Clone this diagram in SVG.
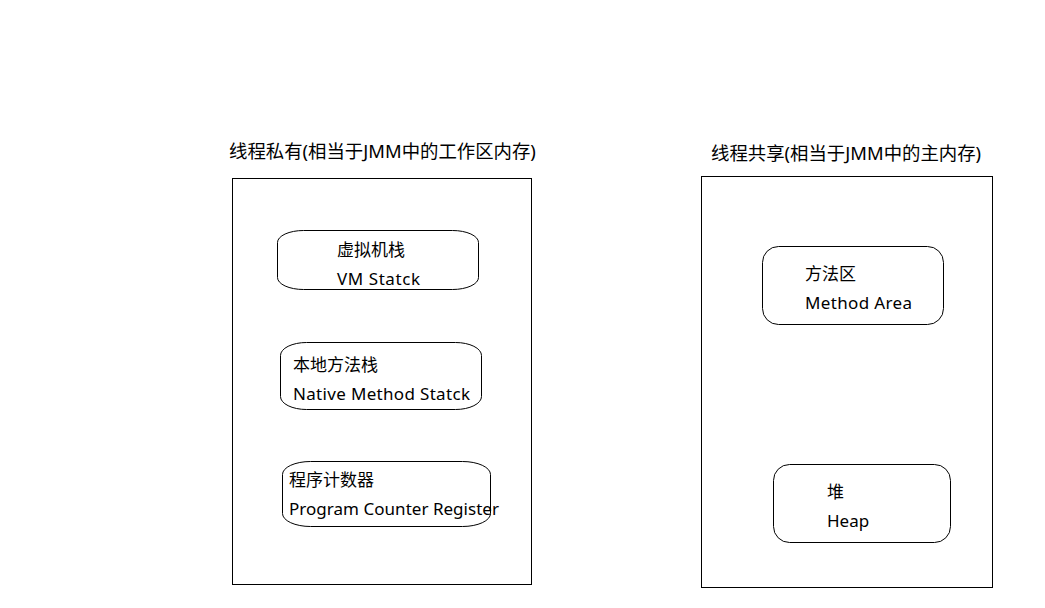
<svg xmlns="http://www.w3.org/2000/svg" width="1045" height="608" viewBox="0 0 1045 608">
<style>
.box{fill:#fff;stroke:#000;stroke-width:1}
.t{font-family:"Noto Sans","Noto Sans CJK SC",sans-serif;font-size:17px;fill:#000}
.h{font-family:"Noto Sans","Noto Sans CJK SC",sans-serif;font-size:18.4px;fill:#000}
</style>
<rect width="1045" height="608" fill="#fff"/>
<g id="private">
<text class="h" x="229" y="158">线程私有(相当于JMM中的工作区内存)</text>
<rect class="box" x="232.5" y="178.5" width="299" height="406"/>
</g>
<g id="shared">
<text class="h" x="711" y="160">线程共享(相当于JMM中的主内存)</text>
<rect class="box" x="701.5" y="176.5" width="291" height="411"/>
</g>
<g id="vmstack">
<rect class="box" x="277.5" y="230.5" width="201" height="59" rx="26" ry="12"/>
<text class="t" x="337" y="256">虚拟机栈</text>
<text class="t" x="337" y="285" textLength="83">VM Statck</text>
</g>
<g id="nativestack">
<rect class="box" x="280.5" y="342.5" width="201" height="67" rx="26" ry="13"/>
<text class="t" x="293" y="371">本地方法栈</text>
<text class="t" x="293" y="400" textLength="177">Native Method Statck</text>
</g>
<g id="pc">
<rect class="box" x="282.5" y="461.5" width="208" height="65" rx="28" ry="13"/>
<text class="t" x="289" y="486">程序计数器</text>
<text class="t" x="289" y="515" textLength="210">Program Counter Register</text>
</g>
<g id="methodarea">
<rect class="box" x="762.5" y="246.5" width="181" height="78" rx="16"/>
<text class="t" x="805" y="280">方法区</text>
<text class="t" x="805" y="309" textLength="107">Method Area</text>
</g>
<g id="heap">
<rect class="box" x="773.5" y="464.5" width="177" height="78" rx="16"/>
<text class="t" x="827" y="498">堆</text>
<text class="t" x="827" y="527">Heap</text>
</g>
<g id="connectors"></g>
</svg>
